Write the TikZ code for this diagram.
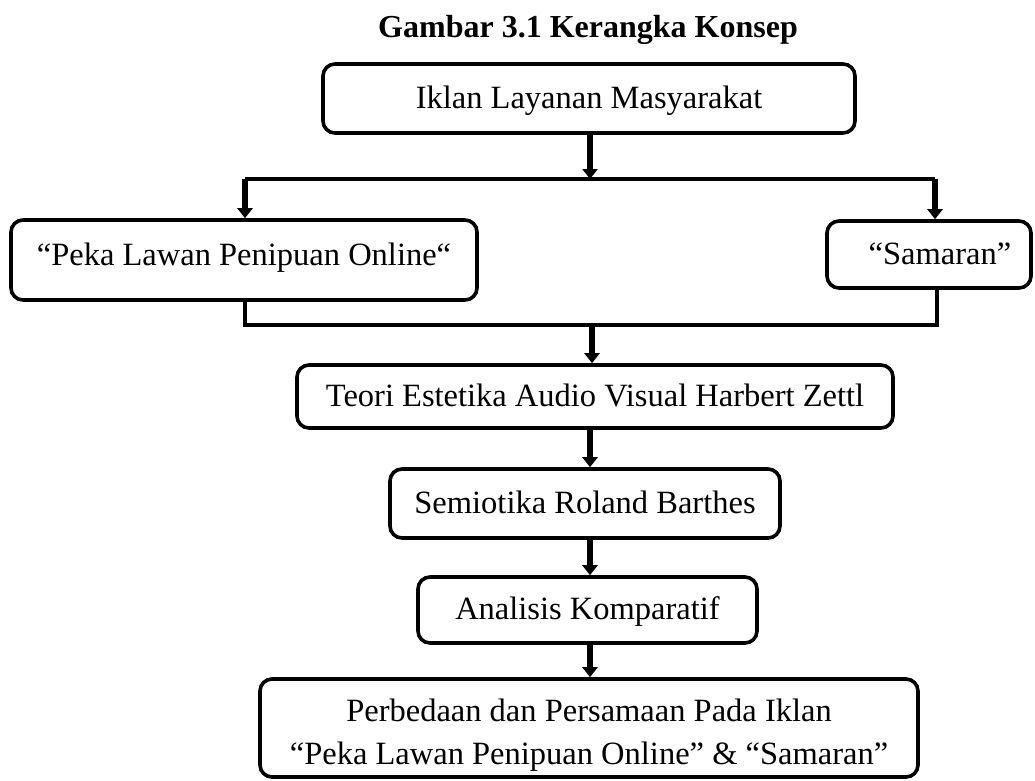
\documentclass[tikz,border=0pt]{standalone}
\usepackage{fontspec}
\setmainfont{Liberation Serif}
\usetikzlibrary{arrows.meta}
\begin{document}
\begin{tikzpicture}[x=1pt,y=-1pt,
  boxnode/.style={draw, line width=3.6pt, rounded corners=12pt, inner sep=0pt,
    font=\fontsize{32.5}{43}\selectfont, text height=22pt, text depth=3pt},
  conn/.style={line width=3.6pt},
  arr/.style={line width=6pt, -{Triangle[width=15pt,length=10pt]}}]
\useasboundingbox (0,0) rectangle (1035,780);

\node[font=\fontsize{32}{38}\selectfont\bfseries, anchor=base] (title) at (588,37) {Gambar 3.1 Kerangka Konsep};

\node[boxnode, minimum width=532pt, minimum height=69pt] (iklan) at (589,98.5) {Iklan Layanan Masyarakat};
\node[boxnode, minimum width=466pt, minimum height=80pt, text depth=12pt] (peka) at (244,260) {“Peka Lawan Penipuan Online“};
\node[boxnode, minimum width=204pt, minimum height=67pt] (sam) at (929,254.5) {\hspace*{22pt}“Samaran”};
\node[boxnode, minimum width=596pt, minimum height=63pt] (teori) at (595,396.5) {Teori Estetika Audio Visual Harbert Zettl};
\node[boxnode, minimum width=390pt, minimum height=69pt] (semio) at (585,503.5) {Semiotika Roland Barthes};
\node[boxnode, minimum width=339pt, minimum height=66pt] (anal) at (587.5,610) {Analisis Komparatif};
\node[boxnode, minimum width=658pt, minimum height=98pt] (hasil) at (589,728) {};
\node[font=\fontsize{32.5}{43}\selectfont, align=center, inner sep=0pt] (hasiltext) at (589,735)
  {Perbedaan dan Persamaan Pada Iklan\\“Peka Lawan Penipuan Online” \& “Samaran”};

% split
\coordinate (hL) at (245,179);
\coordinate (hR) at (935,179);
\coordinate (hC) at (590,179);
\draw[conn] (hL) -- (hR);
\draw[arr] (iklan.south -| hC) -- (hC);
\draw[arr] (hL) -- (hL |- peka.north);
\draw[arr] (hR) -- (hR |- sam.north);

% merge
\coordinate (mL) at (245,325);
\coordinate (mR) at (937,325);
\coordinate (mC) at (592,325);
\draw[conn] (mL |- peka.south) -- (mL) -- (mR) -- (mR |- sam.south);
\draw[arr] (mC) -- (mC |- teori.north);

% chain
\coordinate (cX) at (590,0);
\draw[arr] (teori.south -| cX) -- (semio.north -| cX);
\draw[arr] (semio.south -| cX) -- (anal.north -| cX);
\draw[arr] (anal.south -| cX) -- (hasil.north -| cX);
\end{tikzpicture}
\end{document}
